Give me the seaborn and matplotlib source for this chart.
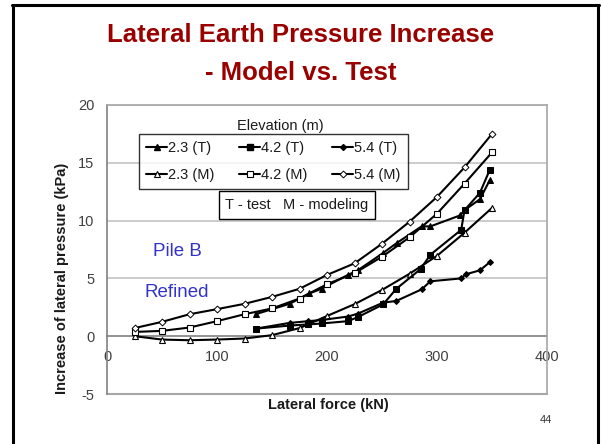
import matplotlib
matplotlib.use("Agg")
import matplotlib.pyplot as plt
import seaborn as sns
import pandas as pd
from matplotlib.lines import Line2D

# ---- data ----
x_model = [25, 50, 75, 100, 125, 150, 175, 200, 225, 250, 275, 300, 325, 350]
m23 = [0.0, -0.29, -0.35, -0.29, -0.2, 0.09, 0.7, 1.75, 2.77, 4.0, 5.4, 6.95, 8.95, 11.1]
m42 = [0.37, 0.46, 0.75, 1.3, 1.9, 2.4, 3.26, 4.5, 5.45, 6.87, 8.55, 10.6, 13.2, 15.9]
m54 = [0.7, 1.24, 1.9, 2.34, 2.8, 3.4, 4.1, 5.3, 6.3, 8.0, 9.9, 12.05, 14.6, 17.5]

x_t23 = [135, 166, 184, 195, 219, 228, 251, 264, 286, 294, 321, 325, 339, 348]
t23 = [1.9, 2.8, 3.7, 4.1, 5.3, 5.7, 7.2, 8.1, 9.5, 9.5, 10.45, 10.9, 11.85, 13.5]
x_t42 = [135, 166, 183, 195, 219, 228, 251, 263, 285, 294, 322, 325, 339, 348]
t42 = [0.65, 0.92, 1.02, 1.1, 1.3, 1.65, 2.75, 4.1, 5.8, 7.05, 9.2, 10.9, 12.4, 14.4]
x_t54 = [135, 166, 183, 195, 219, 228, 251, 263, 286, 294, 322, 326, 339, 348]
t54 = [0.65, 1.15, 1.3, 1.4, 1.7, 1.95, 2.9, 3.05, 4.05, 4.75, 5.0, 5.35, 5.7, 6.4]

labels = ["2.3 (T)", "2.3 (M)", "4.2 (T)", "4.2 (M)", "5.4 (T)", "5.4 (M)"]
x_ticks = [0, 100, 200, 300, 400]
y_ticks = [-5, 0, 5, 10, 15, 20]

series = [
    (labels[0], x_t23, t23, dict(marker="^", markersize=4.5, markerfacecolor="black", markeredgecolor="black")),
    (labels[1], x_model, m23, dict(marker="^", markersize=4.2, markerfacecolor="white", markeredgecolor="black", markeredgewidth=0.8)),
    (labels[2], x_t42, t42, dict(marker="s", markersize=4.5, markerfacecolor="black", markeredgecolor="black")),
    (labels[3], x_model, m42, dict(marker="s", markersize=4.2, markerfacecolor="white", markeredgecolor="black", markeredgewidth=0.8)),
    (labels[4], x_t54, t54, dict(marker="D", markersize=3.0, markerfacecolor="black", markeredgecolor="black")),
    (labels[5], x_model, m54, dict(marker="D", markersize=3.5, markerfacecolor="white", markeredgecolor="black", markeredgewidth=0.7)),
]

sns.set_theme(style="white")
plt.rcParams["font.family"] = ["Liberation Sans", "DejaVu Sans"]
plt.rcParams["axes.unicode_minus"] = False

fig = plt.figure(figsize=(6.02, 4.44), dpi=100)
ax = fig.add_axes([107 / 602, 1 - 394 / 444, 440 / 602, 289 / 444])

handles = []
for name, xs, ys, style in series:
    df = pd.DataFrame({"x": xs, "y": ys})
    sns.lineplot(data=df, x="x", y="y", ax=ax, color="black", linewidth=1.5,
                 sort=False, estimator=None, zorder=3, **style)
    handles.append(Line2D([], [], color="black", linewidth=1.5, **style))

ax.set_xlim(0, 400)
ax.set_ylim(-5, 20)
ax.set_xticks(x_ticks)
ax.set_yticks(y_ticks)
ax.set_xlabel("")
ax.set_ylabel("")

# gridlines
for yv in y_ticks[2:]:
    ax.axhline(yv, color="#c4c4c4", linewidth=1.2, zorder=0)

for s in ["top", "right"]:
    ax.spines[s].set_color("#a6a6a6")
    ax.spines[s].set_linewidth(1.2)
ax.spines["left"].set_color("#808080")
ax.spines["left"].set_linewidth(1.2)
ax.spines["bottom"].set_position(("data", 0))
ax.spines["bottom"].set_color("#808080")
ax.spines["bottom"].set_linewidth(1.2)
ax.spines["bottom"].set_zorder(1)
ax.axhline(-5, color="#a6a6a6", linewidth=1.5, clip_on=False, zorder=1)

ax.tick_params(axis="both", direction="out", length=4, width=1, color="#808080",
               labelsize=10.5, labelcolor="#404040")
ax.tick_params(axis="y", pad=5)
ax.tick_params(axis="x", pad=6)

W, H = 602, 444
def fx(px):
    return px / W
def fy(py):
    return 1 - py / H

leg = fig.legend(handles, labels, ncol=3, loc="upper left",
                 bbox_to_anchor=(fx(139), fy(134)), frameon=True, fancybox=False,
                 fontsize=10.5, handlelength=1.4, handletextpad=0.1,
                 columnspacing=1.7, labelspacing=0.85, borderpad=0.5,
                 borderaxespad=0)
leg.get_frame().set_edgecolor("black")
leg.get_frame().set_linewidth(1.0)
leg.get_frame().set_facecolor("white")
for t in leg.get_texts():
    t.set_color("#1a1a1a")

fig.text(fx(280), fy(126), "Elevation (m)", ha="center", va="center", fontsize=10.5, color="#1a1a1a")
fig.text(fx(297), fy(205), "T - test   M - modeling", ha="center", va="center", fontsize=10.5,
         color="#1a1a1a",
         bbox=dict(boxstyle="square,pad=0.45", facecolor="white", edgecolor="black", linewidth=1.0))

fig.text(fx(177), fy(252), "Pile B", ha="center", va="center", fontsize=13.5, color="#3333cc")
fig.text(fx(177), fy(292), "Refined", ha="center", va="center", fontsize=13.5, color="#3333cc")

fig.text(fx(328), fy(405), "Lateral force (kN)", ha="center", va="center", fontsize=10.5,
         fontweight="bold", color="#1a1a1a")
fig.text(fx(62), fy(278), "Increase of lateral pressure (kPa)", ha="center", va="center",
         rotation=90, fontsize=10.5, fontweight="bold", color="#1a1a1a")

fig.text(fx(301), fy(35), "Lateral Earth Pressure Increase", ha="center", va="center",
         fontsize=18.5, fontweight="bold", color="#990000")
fig.text(fx(301), fy(73), "- Model vs. Test", ha="center", va="center",
         fontsize=18.5, fontweight="bold", color="#990000")

fig.text(fx(546), fy(420), "44", ha="center", va="center", fontsize=8, color="#333333")

# slide frame
fig.add_artist(Line2D([fx(13), fx(13)], [0, fy(5.5)], color="black", linewidth=2.2))
fig.add_artist(Line2D([fx(12), fx(598.5)], [fy(5.5), fy(5.5)], color="black", linewidth=2.2))
fig.add_artist(Line2D([fx(598), fx(598)], [0, fy(5.5)], color="black", linewidth=2.2))

fig.savefig("out.png", dpi=100)
